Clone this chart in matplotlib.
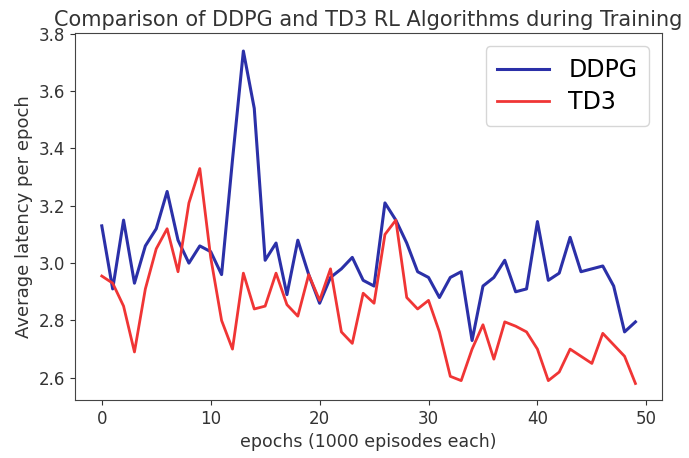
import matplotlib
matplotlib.use('Agg')
import matplotlib.pyplot as plt

epochs = list(range(50))

ddpg = [3.13, 2.91, 3.15, 2.93, 3.06, 3.12, 3.25, 3.08, 3.00, 3.06,
        3.04, 2.96, 3.36, 3.74, 3.54, 3.01, 3.07, 2.89, 3.08, 2.96,
        2.86, 2.95, 2.98, 3.02, 2.94, 2.92, 3.21, 3.15, 3.07, 2.97,
        2.95, 2.88, 2.95, 2.97, 2.73, 2.92, 2.95, 3.01, 2.90, 2.91,
        3.145, 2.94, 2.965, 3.09, 2.97, 2.98, 2.99, 2.92, 2.76, 2.795]

td3 = [2.955, 2.93, 2.85, 2.69, 2.91, 3.05, 3.12, 2.97, 3.21, 3.33,
       3.02, 2.80, 2.70, 2.965, 2.84, 2.85, 2.965, 2.855, 2.815, 2.96,
       2.87, 2.98, 2.76, 2.72, 2.895, 2.86, 3.10, 3.15, 2.88, 2.84,
       2.87, 2.76, 2.605, 2.59, 2.70, 2.785, 2.665, 2.795, 2.78, 2.76,
       2.70, 2.59, 2.62, 2.70, 2.675, 2.65, 2.755, 2.715, 2.675, 2.58]

fig = plt.figure(figsize=(6.89, 4.58), dpi=100)
ax = fig.add_subplot(111)
plt.subplots_adjust(left=0.109, right=0.961, top=0.928, bottom=0.127)

ax.plot(epochs, ddpg, color='#2b30a8', linewidth=2.2, label='DDPG')
ax.plot(epochs, td3, color='#f03535', linewidth=2.0, label='TD3')

ax.set_ylim(2.523, 3.803)
ax.set_yticks([2.6, 2.8, 3.0, 3.2, 3.4, 3.6, 3.8])

ax.set_title('Comparison of DDPG and TD3 RL Algorithms during Training',
             fontsize=15, color='#333333', pad=5)
ax.set_xlabel('epochs (1000 episodes each)', fontsize=12.5, color='#333333')
ax.set_ylabel('Average latency per epoch', fontsize=13, color='#333333')
ax.tick_params(labelsize=12, colors='#333333')
for s in ax.spines.values():
    s.set_color('#444444')

ax.legend(loc='upper right', fontsize=17, labelspacing=0.35, borderpad=0.5,
          handlelength=2.2, borderaxespad=0.55)

plt.savefig('out.png', dpi=100)
